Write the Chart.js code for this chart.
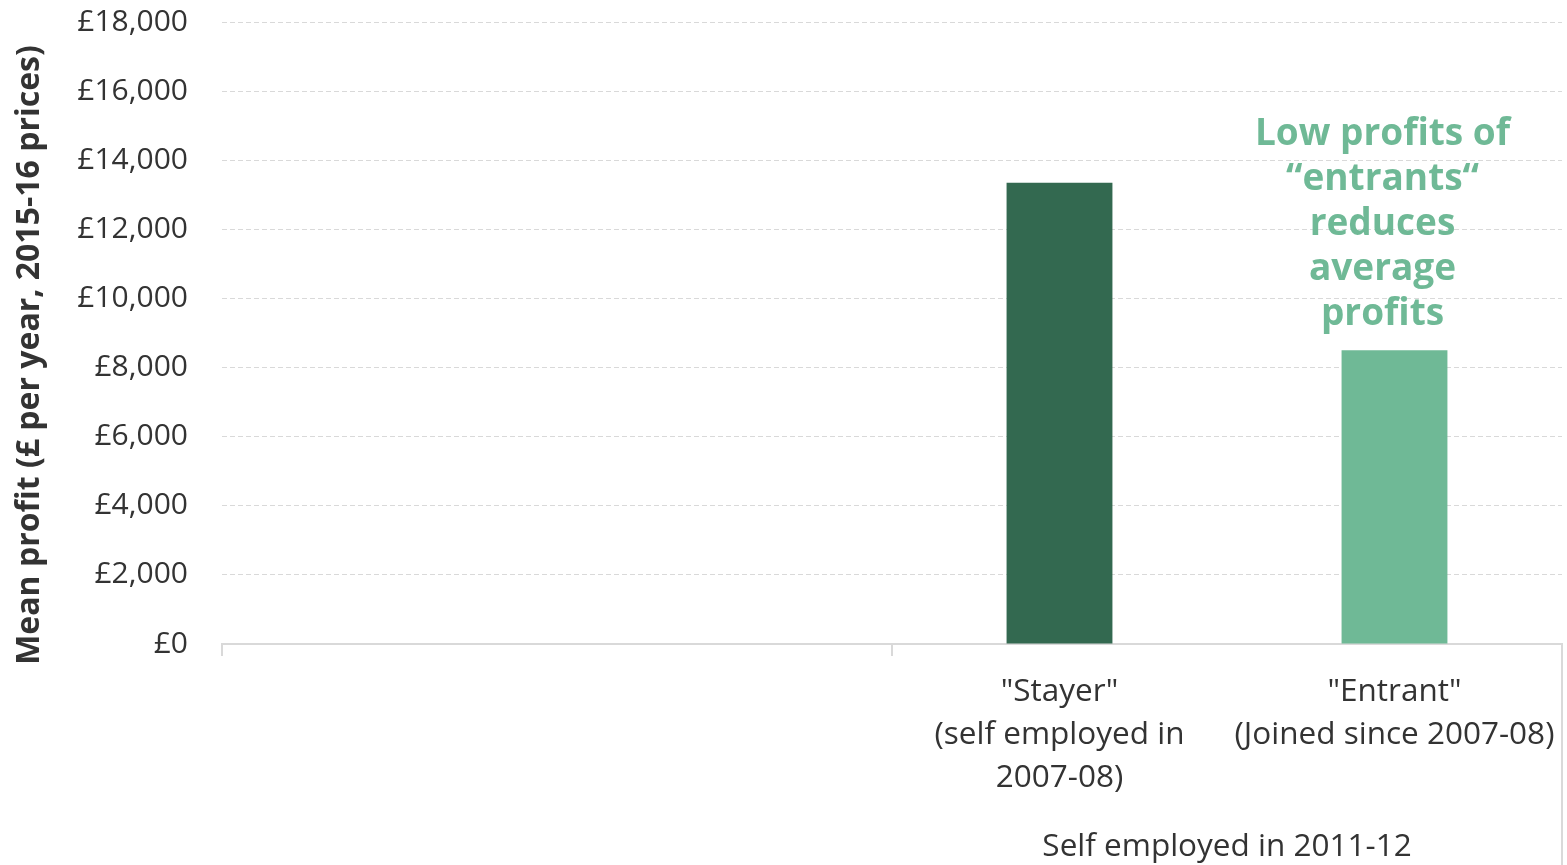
<!DOCTYPE html>
<html>
<head>
<meta charset="utf-8">
<script src="https://cdn.jsdelivr.net/npm/chart.js@4/dist/chart.umd.min.js"></script>
<style>
  html, body { margin: 0; padding: 0; background: #fff; }
  #wrap { width: 1567px; height: 865px; position: relative; }
</style>
</head>
<body>
<div id="wrap"><canvas id="profitChart"></canvas></div>
<script>
// two empty slots on the left, then the 2011-12 self employed group
const categories = ['', '', ['"Stayer"', '(self employed in', '2007-08)'], ['"Entrant"', '(Joined since 2007-08)']];
const meanProfit = [null, null, 13350, 8500];
const barColours = ['#336950', '#336950', '#336950', '#6fb996'];
const groupLabel = 'Self employed in 2011-12';
const yTicks = [0, 2000, 4000, 6000, 8000, 10000, 12000, 14000, 16000, 18000];
const yTitle = 'Mean profit (£ per year, 2015-16 prices)';
const noteLines = ['Low profits of', '\u201centrants\u201c', 'reduces', 'average', 'profits'];

const textCol = '#333333';
const lineCol = '#d9d9d9';
const fontFam = '"Open Sans", "Noto Sans", sans-serif';

const gbp = v => '£' + v.toLocaleString('en-GB');

// axis title, group label, group divider and the annotation
const extras = {
  id: 'extras',
  afterDraw(chart) {
    const {ctx, chartArea: ca, scales: {x, y}} = chart;
    ctx.save();

    // vertical axis title
    ctx.fillStyle = textCol;
    ctx.font = 'bold 32px ' + fontFam;
    ctx.textAlign = 'center';
    ctx.textBaseline = 'middle';
    ctx.translate(30, (ca.top + ca.bottom) / 2 + 22);
    ctx.rotate(-Math.PI / 2);
    ctx.fillText(yTitle, 0, 0);
    ctx.setTransform(1, 0, 0, 1, 0, 0);

    // divider at the right end of the group
    ctx.strokeStyle = lineCol;
    ctx.lineWidth = 2;
    ctx.beginPath();
    ctx.moveTo(ca.right, ca.bottom);
    ctx.lineTo(ca.right, chart.height);
    ctx.stroke();

    // group label under the two bars
    const half = (x.getPixelForValue(3) - x.getPixelForValue(2)) / 2;
    const gx = (x.getPixelForValue(2) - half + ca.right) / 2;
    ctx.font = '31.5px ' + fontFam;
    ctx.fillText(groupLabel, gx, 847);

    // annotation over the entrant bar
    ctx.fillStyle = '#6fb996';
    ctx.font = 'bold 37px ' + fontFam;
    const nx = x.getPixelForValue(3) - 12;
    const ny = y.getPixelForValue(14760);
    noteLines.forEach((t, i) => ctx.fillText(t, nx, ny + i * 45));
    ctx.restore();
  }
};

const chart = new Chart(document.getElementById('profitChart'), {
  type: 'bar',
  data: {
    labels: categories,
    datasets: [{
      data: meanProfit,
      backgroundColor: barColours,
      borderWidth: 0,
      barPercentage: 0.316,
      categoryPercentage: 1
    }]
  },
  options: {
    responsive: true,
    maintainAspectRatio: false,
    animation: false,
    layout: { padding: { top: 22, right: 5, left: 0, bottom: 0 } },
    plugins: { legend: { display: false }, tooltip: { enabled: false } },
    scales: {
      x: {
        offset: true,
        afterFit: s => { s.height = 221; s.paddingLeft = 0; s.paddingRight = 0; },
        border: { display: true, color: lineCol, width: 2 },
        grid: {
          drawOnChartArea: false,
          offset: true,
          tickLength: 12,
          lineWidth: 2,
          color: c => (c.index === 0 || c.index === 2) ? lineCol : 'rgba(0,0,0,0)'
        },
        ticks: {
          color: textCol,
          font: { family: fontFam, size: 31.5, lineHeight: '43px' },
          padding: 15,
          maxRotation: 0,
          autoSkip: false
        }
      },
      y: {
        min: 0,
        max: 18000,
        afterFit: s => { s.width = 222; s.paddingTop = 0; s.paddingBottom = 0; },
        afterBuildTicks: s => { s.ticks = yTicks.map(v => ({ value: v })); },
        border: { display: false, dash: [5, 3] },
        grid: {
          drawTicks: false,
          lineWidth: 1,
          color: c => c.tick && c.tick.value === 0 ? 'rgba(0,0,0,0)' : lineCol
        },
        ticks: {
          color: textCol,
          font: { family: fontFam, size: 30 },
          padding: 34,
          callback: v => gbp(v)
        }
      }
    }
  },
  plugins: [extras]
});
</script>
</body>
</html>
